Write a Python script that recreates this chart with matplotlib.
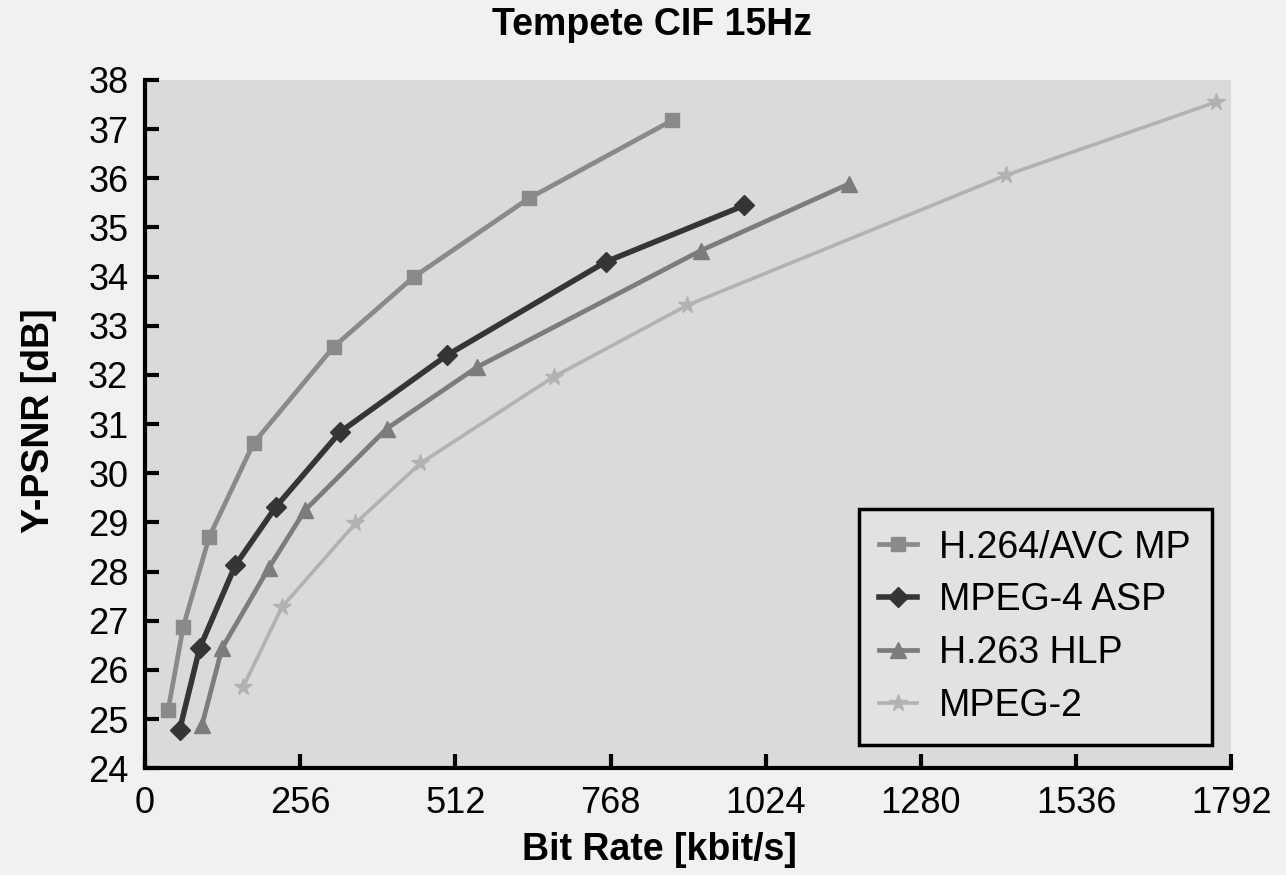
import matplotlib
matplotlib.use("Agg")
import matplotlib.pyplot as plt

# Tempete CIF 15Hz - rate/distortion curves
h264_rate = [38, 63, 106, 179, 311, 443, 633, 870]
h264_psnr = [25.18, 26.88, 28.71, 30.61, 32.57, 33.99, 35.59, 37.18]

mpeg4_rate = [57, 90, 149, 216, 322, 498, 760, 989]
mpeg4_psnr = [24.78, 26.44, 28.13, 29.32, 30.84, 32.40, 34.30, 35.45]

h263_rate = [94, 127, 204, 264, 399, 548, 917, 1162]
h263_psnr = [24.88, 26.44, 28.07, 29.25, 30.91, 32.16, 34.53, 35.89]

mpeg2_rate = [162, 226, 347, 454, 674, 895, 1420, 1767]
mpeg2_psnr = [25.66, 27.28, 28.98, 30.20, 31.96, 33.42, 36.06, 37.55]

x_ticks = [0, 256, 512, 768, 1024, 1280, 1536, 1792]
y_ticks = list(range(24, 39))

plt.rcParams['font.family'] = ['Liberation Sans', 'DejaVu Sans']

fig = plt.figure(figsize=(12.86, 8.75), dpi=100, facecolor='#f1f1f1')
ax = fig.add_axes([0.1128, 0.122, 0.8445, 0.7866])
ax.set_facecolor('#dadada')

ax.plot(h264_rate, h264_psnr, color='#8a8a8a', lw=3.4, marker='s', ms=10,
        label='H.264/AVC MP', zorder=3)
ax.plot(mpeg4_rate, mpeg4_psnr, color='#353535', lw=4.0, marker='D', ms=10,
        label='MPEG-4 ASP', zorder=4)
ax.plot(h263_rate, h263_psnr, color='#7c7c7c', lw=3.4, marker='^', ms=12,
        label='H.263 HLP', zorder=3)
ax.plot(mpeg2_rate, mpeg2_psnr, color='#b2b2b2', lw=2.6, marker='*', ms=13,
        label='MPEG-2', zorder=2)

ax.set_xlim(0, 1792)
ax.set_ylim(24, 38)
ax.set_xticks(x_ticks)
ax.set_yticks(y_ticks)

for side in ['top', 'right']:
    ax.spines[side].set_visible(False)
for side in ['left', 'bottom']:
    ax.spines[side].set_linewidth(3)
    ax.spines[side].set_color('black')

ax.tick_params(axis='both', direction='in', length=10, width=3, labelsize=26)
ax.tick_params(axis='x', pad=13)
ax.tick_params(axis='y', pad=12)

ax.set_xlabel('Bit Rate [kbit/s]', fontsize=27, fontweight='bold')
ax.set_ylabel('Y-PSNR [dB]', fontsize=27, fontweight='bold')
ax.xaxis.set_label_coords(0.474, -0.093)
ax.yaxis.set_label_coords(-0.081, 0.505)

fig.text(0.507, 0.971, 'Tempete CIF 15Hz', fontsize=27, fontweight='bold',
         ha='center', va='center')

leg = ax.legend(loc='lower right', bbox_to_anchor=(0.982, 0.034), fontsize=27,
                frameon=True, fancybox=False, edgecolor='black',
                facecolor='#e2e2e2', framealpha=1, handlelength=1.0,
                handletextpad=0.6, labelspacing=0.45, borderpad=0.55,
                borderaxespad=0)
leg.get_frame().set_linewidth(2.5)

fig.savefig('out.png', dpi=100, facecolor=fig.get_facecolor())
